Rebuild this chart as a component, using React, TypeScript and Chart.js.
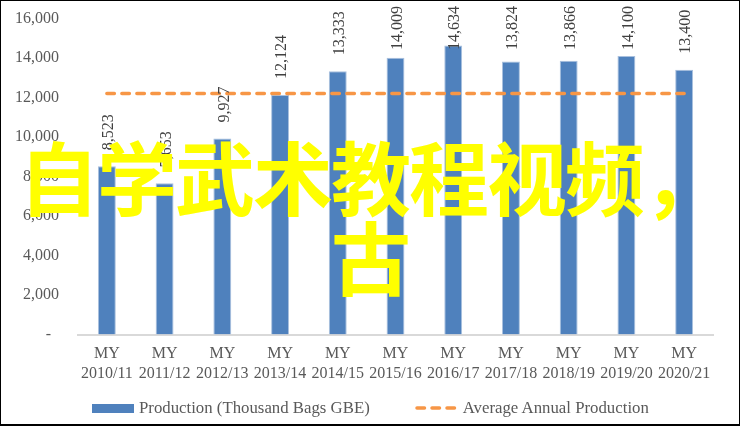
import { useEffect, useRef } from 'react';
import Chart from 'chart.js/auto';

const seasons = [
    ['MY', '2010/11'],
    ['MY', '2011/12'],
    ['MY', '2012/13'],
    ['MY', '2013/14'],
    ['MY', '2014/15'],
    ['MY', '2015/16'],
    ['MY', '2016/17'],
    ['MY', '2017/18'],
    ['MY', '2018/19'],
    ['MY', '2019/20'],
    ['MY', '2020/21'],
];

// thousand 60kg bags, green bean equivalent
const production = [8523, 7653, 9927, 12124, 13333, 14009, 14634, 13824, 13866, 14100, 13400];

// average annual production, drawn flat across all seasons
const averageLine = [12200, 12200, 12200, 12200, 12200, 12200, 12200, 12200, 12200, 12200, 12200];

const yTicks = [0, 2000, 4000, 6000, 8000, 10000, 12000, 14000, 16000];

const BLUE = '#4f81bd';
const ORANGE = '#f79646';
const AXIS_GREY = '#595959';
const SERIF = '"Liberation Serif", "Times New Roman", serif';

// vertical value labels above each bar, pushed down when they hit the top
const barLabels = {
    id: 'barLabels',
    afterDatasetsDraw(chart: any) {
        const meta = chart.getDatasetMeta(1);
        const ctx = chart.ctx;
        ctx.save();
        ctx.font = `16px ${SERIF}`;
        ctx.fillStyle = '#404040';
        ctx.textAlign = 'left';
        ctx.textBaseline = 'middle';
        meta.data.forEach((bar: any, i: number) => {
            const text = production[i].toLocaleString('en-US');
            const w = ctx.measureText(text).width;
            let start = bar.y - 16;
            if (start - w < 6) start = 6 + w;
            ctx.save();
            ctx.translate(bar.x + 2, start);
            ctx.rotate(-Math.PI / 2);
            ctx.fillText(text, 0, 0);
            ctx.restore();
        });
        ctx.restore();
    },
};

export default function App() {
    const chartRef = useRef<HTMLCanvasElement>(null);
    const chartInstance = useRef<Chart | null>(null);

    useEffect(() => {
        if (!chartRef.current) return;
        if (chartInstance.current) chartInstance.current.destroy();

        chartInstance.current = new Chart(chartRef.current, {
            type: 'bar',
            data: {
                labels: seasons,
                datasets: [
                    {
                        type: 'line',
                        label: 'Average Annual Production',
                        data: averageLine,
                        borderColor: ORANGE,
                        borderWidth: 3.5,
                        borderDash: [7.5, 7.5],
                        borderCapStyle: 'round',
                        pointRadius: 0,
                        fill: false,
                        order: 0,
                    },
                    {
                        type: 'bar',
                        label: 'Production (Thousand Bags GBE)',
                        data: production,
                        backgroundColor: BLUE,
                        borderColor: '#a9c0de',
                        borderWidth: 1,
                        categoryPercentage: 1,
                        barPercentage: 0.31,
                        order: 1,
                    },
                ],
            } as any,
            options: {
                animation: false,
                responsive: true,
                maintainAspectRatio: false,
                layout: {
                    padding: { top: 18.5, right: 27, bottom: 0, left: 0 },
                },
                plugins: {
                    legend: { display: false },
                    tooltip: { enabled: false },
                },
                scales: {
                    x: {
                        grid: { display: false, drawTicks: false },
                        border: { display: true, color: '#d9d9d9', width: 2 },
                        ticks: {
                            color: AXIS_GREY,
                            font: { family: SERIF, size: 16 },
                            padding: 10,
                            maxRotation: 0,
                            autoSkip: false,
                        },
                        afterFit: (scale: any) => {
                            scale.height = 426 - 334.5;
                        },
                    },
                    y: {
                        min: 0,
                        max: 16000,
                        grid: { display: false, drawTicks: false },
                        border: { display: false },
                        afterBuildTicks: (scale: any) => {
                            scale.ticks = yTicks.map(v => ({ value: v }));
                        },
                        ticks: {
                            color: AXIS_GREY,
                            font: { family: SERIF, size: 16 },
                            padding: 19,
                            callback: (v: any) =>
                                Number(v) === 0 ? '-  ' : Number(v).toLocaleString('en-US'),
                        },
                        afterFit: (scale: any) => {
                            scale.width = 78;
                            // tick padding would otherwise push the plot top down
                            scale.paddingTop = 0;
                            scale.paddingBottom = 0;
                        },
                    },
                },
            },
            plugins: [barLabels],
        });

        return () => {
            if (chartInstance.current) {
                chartInstance.current.destroy();
                chartInstance.current = null;
            }
        };
    }, []);

    return (
        <div
            style={{
                position: 'fixed',
                left: 0,
                top: 0,
                width: 740,
                height: 426,
                background: '#fff',
                overflow: 'hidden',
            }}
        >
            <div style={{ position: 'absolute', left: 0, top: 0, width: 740, height: 426 }}>
                <canvas ref={chartRef} />
            </div>

            {/* legend */}
            <div
                style={{
                    position: 'absolute',
                    left: 92,
                    top: 398,
                    display: 'flex',
                    alignItems: 'center',
                    fontFamily: SERIF,
                    fontSize: 16.8,
                    lineHeight: '20px',
                    color: AXIS_GREY,
                    whiteSpace: 'nowrap',
                }}
            >
                <span style={{ display: 'inline-block', width: 42, height: 9, background: BLUE, marginRight: 5 }} />
                <span>Production (Thousand Bags GBE)</span>
                <svg width={42} height={8} style={{ marginLeft: 45, marginRight: 6 }}>
                    <line
                        x1={2}
                        y1={4}
                        x2={40}
                        y2={4}
                        stroke={ORANGE}
                        strokeWidth={3.5}
                        strokeDasharray="7.5 7.5"
                        strokeLinecap="round"
                    />
                </svg>
                <span>Average Annual Production</span>
            </div>

            {/* yellow caption laid over the chart */}
            <div
                style={{
                    position: 'absolute',
                    left: 0,
                    top: 134,
                    width: 740,
                    textAlign: 'center',
                    fontFamily: '"Noto Sans CJK SC", sans-serif',
                    fontWeight: 700,
                    fontSize: 80,
                    letterSpacing: -2,
                    lineHeight: '80px',
                    color: '#ffff00',
                    whiteSpace: 'nowrap',
                }}
            >
                自学武术教程视频，
                <br />
                古
            </div>

            <div
                style={{
                    position: 'absolute',
                    left: 0,
                    top: 0,
                    width: 740,
                    height: 426,
                    boxSizing: 'border-box',
                    border: '1px solid #000',
                    borderBottomWidth: 2,
                    pointerEvents: 'none',
                }}
            />
        </div>
    );
}
